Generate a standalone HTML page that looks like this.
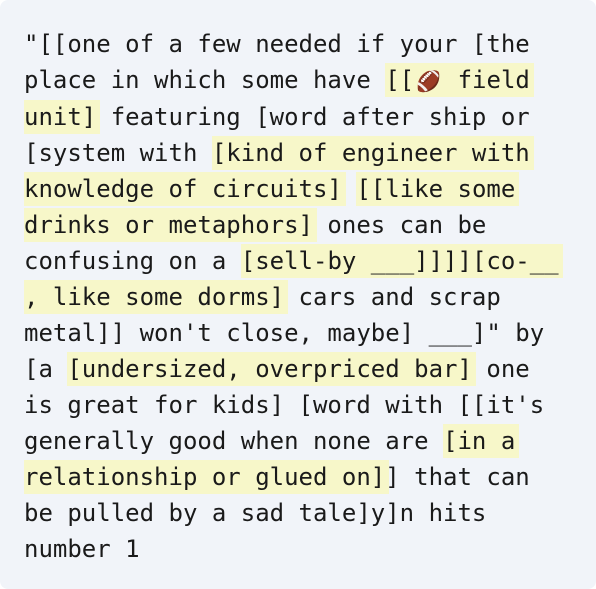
<!DOCTYPE html>
<html><head><meta charset="utf-8"><style>
html,body{margin:0;padding:0;background:#fff;}
.box{width:596px;height:589px;background:#f1f4f9;border-radius:8px;position:relative;overflow:hidden;}
.t{position:absolute;left:24px;top:26px;font-family:"DejaVu Sans Mono","Liberation Mono",monospace;font-size:24px;line-height:36px;color:#1a1a1a;white-space:pre;}
.h{background:#f7f7c9;padding:3px 4px 3px 0;margin:0 -4px 0 0;}
.e{display:inline-block;width:29px;text-align:center;font-size:20px;}
</style></head><body><div class="box"><div class="t">"[[one of a few needed if your [the
place in which some have <span class="h">[[<span class="e">🏈</span> field</span>
<span class="h">unit]</span> featuring [word after ship or
[system with <span class="h">[kind of engineer with</span>
<span class="h">knowledge of circuits]</span> <span class="h">[[like some</span>
<span class="h">drinks or metaphors]</span> ones can be
confusing on a <span class="h">[sell-by ___]]]]</span><span class="h">[co-__</span>
<span class="h">, like some dorms]</span> cars and scrap
metal]] won't close, maybe] ___]" by
[a <span class="h">[undersized, overpriced bar]</span> one
is great for kids] [word with [[it's
generally good when none are <span class="h">[in a</span>
<span class="h">relationship or glued on]</span>] that can
be pulled by a sad tale]y]n hits
number 1</div></div></body></html>
